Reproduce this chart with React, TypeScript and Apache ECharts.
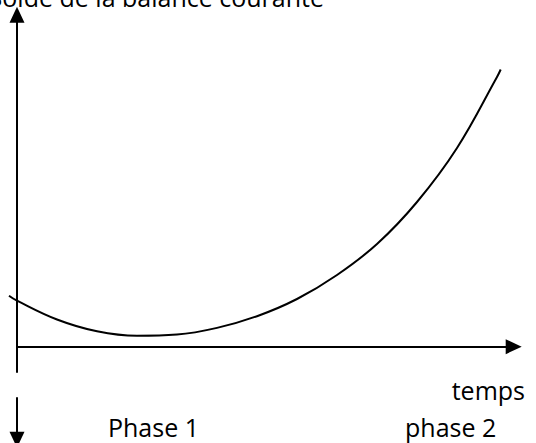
import React, { useEffect, useRef } from 'react';
import * as echarts from 'echarts';

// time (x) and current-account balance (y), arbitrary units
const timeValues = [-0.8, 0, 4, 8, 12, 16, 20, 24, 28, 32, 36, 40, 44, 48, 48.37];
const balanceValues = [5.1, 4.6, 2.72, 1.54, 1.09, 1.21, 1.88, 3.05, 4.77, 7.17, 10.27, 14.47, 19.87, 26.97, 27.72];

const yAxisTitle = 'Solde de la balance courante';
const xAxisTitle = 'temps';
const phaseLabels = ['Phase 1', 'phase 2'];

const FONT = '"Open Sans", "Noto Sans", sans-serif';
const FS = 25;

export default function App() {
  const ref = useRef<HTMLDivElement>(null);
  useEffect(() => {
    if (!ref.current) return;
    const chart = echarts.init(ref.current, null, { renderer: 'svg' });
    const axisLine = (sym: string[]) => ({
      show: true,
      onZero: true,
      symbol: sym,
      symbolSize: [15, 16],
      lineStyle: { color: '#000', width: 2 },
    });
    const hidden = {
      axisTick: { show: false },
      axisLabel: { show: false },
      splitLine: { show: false },
    };
    chart.setOption({
      animation: false,
      backgroundColor: '#fff',
      grid: [
        { left: 17, top: 14.7, right: 22.3, bottom: 71 },
        { left: 17, top: 398, right: 22.3, bottom: 3.3 },
        { left: 9, top: 14.7, right: 22.3, bottom: 71 },
      ],
      xAxis: [
        { type: 'value', gridIndex: 0, min: 0, max: 49.67, axisLine: axisLine(['none', 'triangle']), ...hidden },
        { type: 'value', gridIndex: 1, min: 0, max: 1, show: false },
        { type: 'value', gridIndex: 2, min: -0.8, max: 49.67, show: false },
      ],
      yAxis: [
        { type: 'value', gridIndex: 0, min: -2.53, max: 33.2, axisLine: axisLine(['none', 'triangle']), ...hidden },
        { type: 'value', gridIndex: 1, min: 0, max: 1, axisLine: axisLine(['triangle', 'none']), ...hidden },
        { type: 'value', gridIndex: 2, min: -2.53, max: 33.2, show: false },
      ],
      series: [
        {
          type: 'line',
          xAxisIndex: 2,
          yAxisIndex: 2,
          data: timeValues.map((t, i) => [t, balanceValues[i]]),
          smooth: 0.4,
          showSymbol: false,
          lineStyle: { color: '#000', width: 2 },
        },
      ],
      graphic: [
        { type: 'text', x: 324, y: -2.7, style: { text: yAxisTitle, font: `${FS}px ${FONT}`, fill: '#000', align: 'right', verticalAlign: 'middle' } },
        { type: 'text', x: 525, y: 390.3, style: { text: xAxisTitle, font: `${FS}px ${FONT}`, fill: '#000', align: 'right', verticalAlign: 'middle' } },
        { type: 'text', x: 108, y: 427.3, style: { text: phaseLabels[0], font: `${FS}px ${FONT}`, fill: '#000', align: 'left', verticalAlign: 'middle' } },
        { type: 'text', x: 405, y: 427.3, style: { text: phaseLabels[1], font: `${FS}px ${FONT}`, fill: '#000', align: 'left', verticalAlign: 'middle' } },
      ],
    });
    return () => chart.dispose();
  }, []);
  return <div ref={ref} style={{ width: 536, height: 443, position: 'fixed', left: 0, top: 0 }} />;
}
